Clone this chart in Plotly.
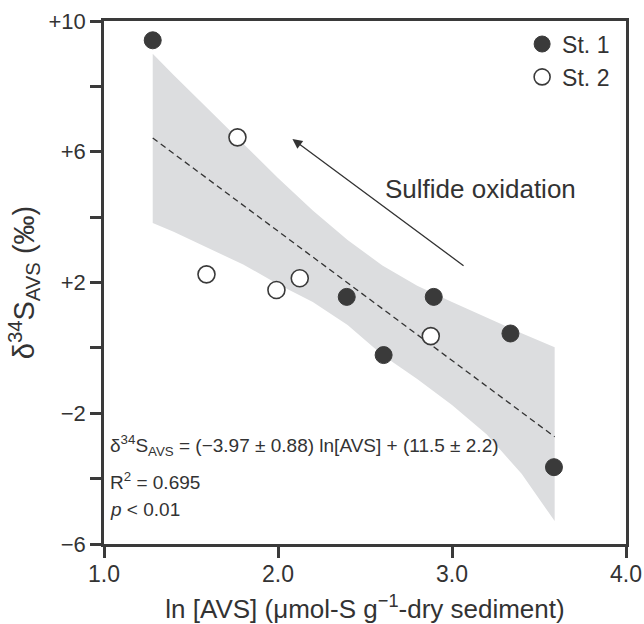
import plotly.graph_objects as go

# ---- data ----
st1_x = [1.28, 2.395, 2.895, 2.607, 3.336, 3.586]
st1_y = [9.41, 1.56, 1.56, -0.22, 0.44, -3.65]

st2_x = [1.767, 1.589, 1.991, 2.125, 2.878]
st2_y = [6.44, 2.25, 1.77, 2.13, 0.36]

fit_x = [1.28, 3.59]
fit_y = [6.42, -2.72]

band_x = [1.28, 1.4, 1.6, 1.8, 2.0, 2.2, 2.4, 2.6, 2.8, 3.0, 3.2, 3.4, 3.59]
band_upper = [9.0, 8.35, 7.3, 6.25, 5.2, 4.2, 3.3, 2.52, 1.9, 1.4, 0.92, 0.45, 0.02]
band_lower = [3.82, 3.55, 3.05, 2.55, 1.95, 1.4, 0.7, -0.22, -0.95, -1.75, -2.65, -3.85, -5.3]

y_tickvals = [-6, -4, -2, 0, 2, 4, 6, 8, 10]
y_ticktext = ["\u22126", "", "\u22122", "", "+2", "", "+6", "", "+10"]
x_tickvals = [1.0, 2.0, 3.0, 4.0]
x_ticktext = ["1.0", "2.0", "3.0", "4.0"]

arrow_tail = (3.075, 2.48)
arrow_head = (2.083, 6.39)

FONT = "Liberation Sans, Arial, Helvetica, sans-serif"
INK = "#333333"
AXIS = "#3a3a3a"
DOT = "#3a3a3a"

fig = go.Figure()

# confidence band
fig.add_trace(go.Scatter(
    x=band_x + band_x[::-1], y=band_upper + band_lower[::-1],
    fill="toself", fillcolor="#dcdddf", line=dict(width=0),
    mode="lines", hoverinfo="skip", showlegend=False))

# regression line
fig.add_trace(go.Scatter(
    x=fit_x, y=fit_y, mode="lines",
    line=dict(color=INK, width=1.3, dash="6px,4px"),
    showlegend=False))

fig.add_trace(go.Scatter(
    x=st1_x, y=st1_y, mode="markers", name="St. 1",
    marker=dict(size=17, color=DOT, line=dict(color=DOT, width=1))))
fig.add_trace(go.Scatter(
    x=st2_x, y=st2_y, mode="markers", name="St. 2",
    marker=dict(size=17, color="white", line=dict(color=DOT, width=1.6))))

fig.add_annotation(
    x=arrow_head[0], y=arrow_head[1], ax=arrow_tail[0], ay=arrow_tail[1],
    xref="x", yref="y", axref="x", ayref="y", text="",
    showarrow=True, arrowhead=2, arrowsize=1.5, arrowwidth=1.3,
    arrowcolor=INK)

fig.add_annotation(
    x=3.165, y=4.85, xref="x", yref="y", text="Sulfide oxidation",
    showarrow=False, font=dict(family=FONT, size=26, color=INK))

eq_lines = [
    ("\u03b4<sup>34</sup>S<sub>AVS</sub> = (\u22123.97 \u00b1 0.88) ln[AVS] + (11.5 \u00b1 2.2)", -2.98),
    ("R<sup>2</sup> = 0.695", -4.06),
    ("<i>p</i> < 0.01", -4.95),
]
for txt, yy in eq_lines:
    fig.add_annotation(
        x=1.022, y=yy, xref="x", yref="y", text=txt, xanchor="left",
        showarrow=False, font=dict(family=FONT, size=19, color=INK))

fig.update_layout(
    width=644, height=624,
    margin=dict(l=104, r=18, t=21, b=80, autoexpand=False),
    paper_bgcolor="white", plot_bgcolor="white",
    font=dict(family=FONT, size=22, color=INK),
    legend=dict(x=0.801, y=0.997, xanchor="left", yanchor="top",
                bgcolor="rgba(0,0,0,0)", font=dict(size=23),
                itemwidth=30, tracegroupgap=0),
)

fig.update_xaxes(
    range=[1.0, 4.0], tickvals=x_tickvals, ticktext=x_ticktext,
    ticks="outside", ticklen=11, tickwidth=2.5, tickcolor=AXIS,
    showline=True, linewidth=2.5, linecolor=AXIS, mirror=True,
    showgrid=False, zeroline=False, tickfont=dict(size=23),
    ticklabelstandoff=-3, automargin=False,
    title=dict(text="ln [AVS] (\u03bcmol-S g<sup>\u22121</sup>-dry sediment)",
               font=dict(size=26), standoff=14),
)
fig.update_yaxes(
    range=[-6, 10], tickvals=y_tickvals, ticktext=y_ticktext,
    ticks="outside", ticklen=11, tickwidth=2.5, tickcolor=AXIS,
    showline=True, linewidth=2.5, linecolor=AXIS, mirror=True,
    showgrid=False, zeroline=False, tickfont=dict(size=22),
    automargin=False,
    title=dict(text="\u03b4<sup>34</sup>S<sub>AVS</sub> (\u2030)",
               font=dict(size=29), standoff=6),
)

fig.write_html("out.html", config={"displayModeBar": False},
               post_script="document.body.style.margin='0px';")
